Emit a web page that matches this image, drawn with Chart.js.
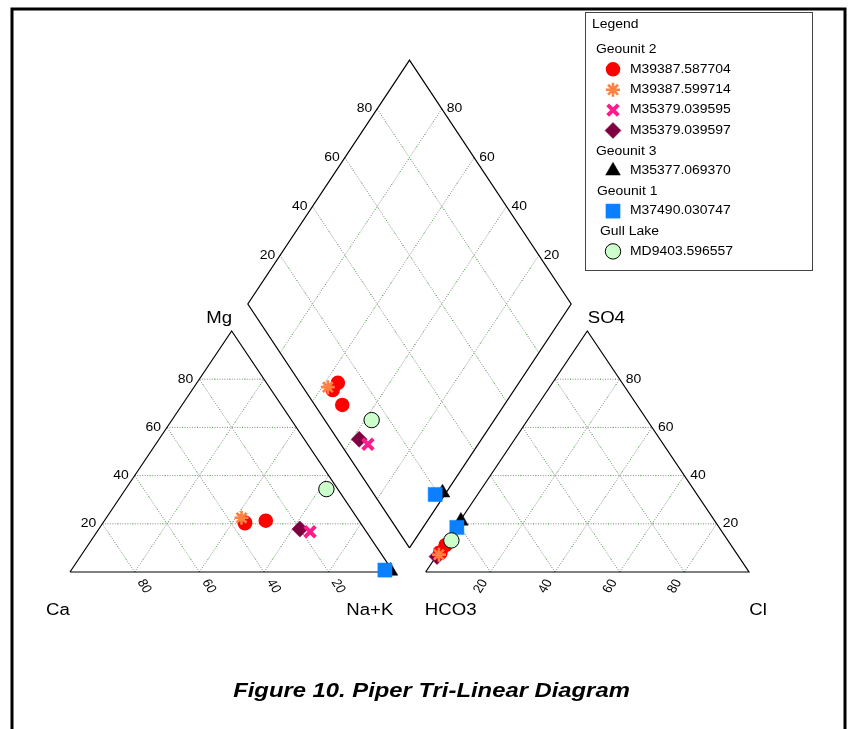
<!DOCTYPE html>
<html>
<head>
<meta charset="utf-8">
<script src="https://cdn.jsdelivr.net/npm/chart.js@4.4.0/dist/chart.umd.min.js"></script>
<style>
  html, body { margin: 0; padding: 0; background: #fff; }
</style>
</head>
<body>
<canvas id="piper" width="850" height="729"></canvas>
<script>
// Legend groups and sample series
const groupNames = ['Geounit 2', 'Geounit 3', 'Geounit 1', 'Gull Lake'];
const seriesNames = ['M39387.587704', 'M39387.599714', 'M35379.039595', 'M35379.039597',
                     'M35377.069370', 'M37490.030747', 'MD9403.596557'];
const seriesGroup = [0, 0, 0, 0, 1, 2, 3];

// Samples (% meq/L), one entry per analysed sample
const sampleSeries = [0, 0, 0, 1, 2, 3, 4, 5, 6];
const ca   = [35.8, 35.6, 28.8, 35.7, 17.4, 20.0, 0.7, 2.2, 3.5];
const mg   = [20.2, 20.5, 21.3, 22.5, 16.7, 17.8, 0.4, 0.8, 34.4];
const naK  = [44.0, 43.9, 49.9, 41.8, 65.9, 62.2, 98.9, 97.0, 62.1];
const hco3 = [88.3, 91.4, 91.5, 92.3, 91.6, 93.3, 78.5, 81.1, 85.5];
const so4  = [11.1, 8.1, 8.0, 7.2, 8.0, 6.4, 21.2, 18.5, 13.1];
const cl   = [0.6, 0.5, 0.5, 0.5, 0.4, 0.3, 0.3, 0.4, 1.4];

// Grid / tick levels
const gridLevels = [20, 40, 60, 80];

// marker look for each series (same order as seriesNames)
const markerStyles = [
  { pointStyle: 'circle',   radius: 6.5, fill: '#ff0000', stroke: '#ff0000', width: 1.5, order: 5 },
  { pointStyle: 'star',     radius: 7,   fill: '#ff8040', stroke: '#ff8040', width: 2.6, order: 4 },
  { pointStyle: 'crossRot', radius: 7.5, fill: '#ff1a8c', stroke: '#ff1a8c', width: 4,   order: 6 },
  { pointStyle: 'rectRot',  radius: 8,   fill: '#7f0040', stroke: '#7f0040', width: 0.5, order: 7 },
  { pointStyle: 'triangle', radius: 8.5, fill: '#000000', stroke: '#000000', width: 0.5, order: 3 },
  { pointStyle: 'rect',     radius: 10,  fill: '#0a80ff', stroke: '#0a80ff', width: 0.5, order: 2 },
  { pointStyle: 'circle',   radius: 7.7, fill: '#ccffcc', stroke: '#000000', width: 1,   order: 1 }
];

// --- Piper geometry (units: triangle side = 100) ---
const SQ = Math.sqrt(3) / 2;
const GAP = 10;
const DIAMOND_STRETCH = 1.012;

function cationXY(m, n) { return { x: n + m / 2, y: m * SQ }; }
function anionXY(s, c) { return { x: 100 + GAP + c + s / 2, y: s * SQ }; }
function diamondXY(n, h) {
  const a = n, b = 200 + GAP - h;
  const y0 = GAP * SQ;
  const y = (b - a) * SQ;
  return { x: (a + b) / 2, y: y0 + (y - y0) * DIAMOND_STRETCH };
}

// pixel mapping of the picture
const PX = { left: 70, base: 572, sx: 3.2333, sy: 2.783 };
const S = PX.sx / PX.sy; // horizontal stretch of the original figure
const xMin = -PX.left / PX.sx, xMax = xMin + 850 / PX.sx;
const yMax = PX.base / PX.sy, yMin = yMax - 729 / PX.sy;

// outlines
const gap = { x: null, y: null };
const outline = [
  cationXY(0, 0), cationXY(0, 100), cationXY(100, 0), cationXY(0, 0), gap,
  anionXY(0, 0), anionXY(0, 100), anionXY(100, 0), anionXY(0, 0), gap,
  diamondXY(100, 100), diamondXY(0, 100), diamondXY(0, 0), diamondXY(100, 0), diamondXY(100, 100)
];

// grid lines
const grid = [];
gridLevels.forEach(v => {
  grid.push(cationXY(v, 0), cationXY(v, 100 - v), gap);
  grid.push(cationXY(0, v), cationXY(100 - v, v), gap);
  grid.push(cationXY(0, 100 - v), cationXY(100 - v, 0), gap);
  grid.push(anionXY(v, 0), anionXY(v, 100 - v), gap);
  grid.push(anionXY(0, v), anionXY(100 - v, v), gap);
  grid.push(anionXY(0, 100 - v), anionXY(100 - v, 0), gap);
  grid.push(diamondXY(v, 0), diamondXY(v, 100), gap);
  grid.push(diamondXY(0, v), diamondXY(100, v), gap);
});

const datasets = [
  { data: grid, showLine: true, pointRadius: 0, borderColor: '#8a8a8a', borderWidth: 1, borderDash: [1, 1.5], order: 100 },
  { data: grid, showLine: true, pointRadius: 0, borderColor: '#22cc22', borderWidth: 1, borderDash: [1, 14], order: 99 },
  { data: outline, showLine: true, pointRadius: 0, borderColor: '#000', borderWidth: 1.2, order: 90 }
];

seriesNames.forEach((name, si) => {
  const pts = [];
  sampleSeries.forEach((s, i) => {
    if (s !== si) return;
    pts.push(cationXY(mg[i], naK[i]));
    pts.push(anionXY(so4[i], cl[i]));
    pts.push(diamondXY(naK[i], hco3[i]));
  });
  const st = markerStyles[si];
  datasets.push({
    label: name, data: pts, showLine: false,
    pointStyle: st.pointStyle, pointRadius: st.radius,
    pointBackgroundColor: st.fill, pointBorderColor: st.stroke, pointBorderWidth: st.width,
    order: st.order
  });
});

const FONT = '"Liberation Sans", Arial, Helvetica, sans-serif';

function text(ctx, str, x, y, font, align, rot) {
  ctx.save();
  ctx.translate(x, y);
  ctx.scale(S, 1);
  if (rot) ctx.rotate(rot);
  ctx.font = font;
  ctx.textAlign = align || 'left';
  ctx.textBaseline = 'middle';
  ctx.fillStyle = '#000';
  ctx.fillText(str, 0, 0);
  ctx.restore();
}

function marker(ctx, st, x, y) {
  ctx.save();
  ctx.fillStyle = st.fill;
  ctx.strokeStyle = st.stroke;
  ctx.lineWidth = st.width;
  if (Chart.helpers && Chart.helpers.drawPoint) {
    Chart.helpers.drawPoint(ctx, { pointStyle: st.pointStyle, radius: st.radius, rotation: 0, borderWidth: st.width }, x, y);
  } else {
    ctx.beginPath(); ctx.arc(x, y, st.radius, 0, Math.PI * 2); ctx.fill(); ctx.stroke();
  }
  ctx.restore();
}

const decor = {
  id: 'piperDecor',
  beforeDraw(chart) {
    const ctx = chart.ctx;
    ctx.save();
    ctx.fillStyle = '#fff';
    ctx.fillRect(0, 0, chart.width, chart.height);
    ctx.restore();
  },
  afterDraw(chart) {
    const ctx = chart.ctx;
    const xs = chart.scales.x, ys = chart.scales.y;
    const px = p => ({ x: xs.getPixelForValue(p.x), y: ys.getPixelForValue(p.y) });
    const tickFont = '12px ' + FONT;
    const t = 5.9;

    gridLevels.forEach(v => {
      let p = px(cationXY(v, 0));
      text(ctx, String(v), p.x - 6, p.y, tickFont, 'right');
      const b = cationXY(0, 100 - v);
      p = px({ x: b.x + 0.5 * t, y: b.y - SQ * t });
      text(ctx, String(v), p.x, p.y, tickFont, 'center', Math.PI / 3);
      p = px(anionXY(v, 100 - v));
      text(ctx, String(v), p.x + 6, p.y, tickFont, 'left');
      const c = anionXY(0, v);
      p = px({ x: c.x - 0.5 * t, y: c.y - SQ * t });
      text(ctx, String(v), p.x, p.y, tickFont, 'center', -Math.PI / 3);
      p = px(diamondXY(0, 100 - v));
      text(ctx, String(v), p.x - 5, p.y, tickFont, 'right');
      p = px(diamondXY(100 - v, 0));
      text(ctx, String(v), p.x + 5, p.y, tickFont, 'left');
    });

    // corner labels
    const axFont = '16px ' + FONT;
    const vMg = px(cationXY(100, 0)), vCa = px(cationXY(0, 0)), vNa = px(cationXY(0, 100));
    const vSO4 = px(anionXY(100, 0)), vHC = px(anionXY(0, 0)), vCl = px(anionXY(0, 100));
    text(ctx, 'Mg', vMg.x - 12.5, vMg.y - 12, axFont, 'center');
    text(ctx, 'SO4', vSO4.x + 19, vSO4.y - 12, axFont, 'center');
    text(ctx, 'Ca', vCa.x - 12, vCa.y + 38.5, axFont, 'center');
    text(ctx, 'Na+K', vNa.x - 23.5, vNa.y + 38.5, axFont, 'center');
    text(ctx, 'HCO3', vHC.x + 25, vHC.y + 38.5, axFont, 'center');
    text(ctx, 'Cl', vCl.x + 9, vCl.y + 38.5, axFont, 'center');

    // title
    text(ctx, 'Figure 10. Piper Tri-Linear Diagram', 431.5, 691, 'italic bold 20.5px ' + FONT, 'center');

    // frame
    ctx.save();
    ctx.strokeStyle = '#000';
    ctx.lineWidth = 3;
    ctx.strokeRect(12, 9, 833, 760);
    ctx.restore();

    // legend
    ctx.save();
    ctx.strokeStyle = '#444';
    ctx.lineWidth = 1;
    ctx.strokeRect(585.5, 12.5, 227, 258);
    ctx.restore();
    const lf = '12px ' + FONT;
    text(ctx, 'Legend', 592, 25, lf, 'left');
    const headerX = [596, 596, 597, 600];
    let y = 50;
    groupNames.forEach((g, gi) => {
      text(ctx, g, headerX[gi], y, lf, 'left');
      y += 19.3;
      seriesNames.forEach((n, si) => {
        if (seriesGroup[si] !== gi) return;
        marker(ctx, markerStyles[si], 613, y);
        text(ctx, n, 630, y, lf, 'left');
        y += 20.4;
      });
      y += 0.6;
    });
  }
};

new Chart(document.getElementById('piper'), {
  type: 'scatter',
  data: { datasets },
  options: {
    responsive: false,
    animation: false,
    events: [],
    layout: { padding: 0, autoPadding: false },
    plugins: { legend: { display: false }, tooltip: { enabled: false } },
    scales: {
      x: { type: 'linear', min: xMin, max: xMax, display: false },
      y: { type: 'linear', min: yMin, max: yMax, display: false }
    }
  },
  plugins: [decor]
});
</script>
</body>
</html>
